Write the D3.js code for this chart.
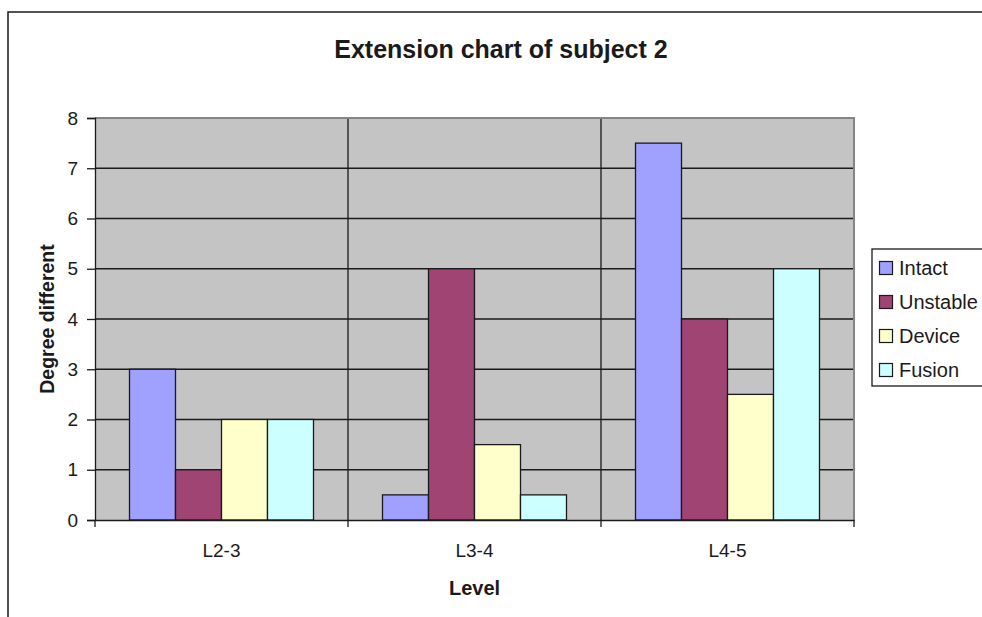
<!DOCTYPE html>
<html>
<head>
<meta charset="utf-8">
<script src="https://cdn.jsdelivr.net/npm/d3@7"></script>
<style>
  html, body { margin: 0; padding: 0; background: #fff; }
  svg { display: block; font-family: "Liberation Sans", Arial, sans-serif; }
</style>
</head>
<body>
<svg id="chart" width="982" height="617"></svg>
<script>
// Extension angles per spinal level for subject 2
const levels = ["L2-3", "L3-4", "L4-5"];
const seriesNames = ["Intact", "Unstable", "Device", "Fusion"];
const intact   = [3, 0.5, 7.5];
const unstable = [1, 5, 4];
const device   = [2, 1.5, 2.5];
const fusion   = [2, 0.5, 5];
const yTicks = [0, 1, 2, 3, 4, 5, 6, 7, 8];
const colors = ["#a0a0ff", "#a04473", "#ffffcc", "#ccffff"];

const seriesValues = [intact, unstable, device, fusion];
const ink = "#1a1a1a";
const fontFamily = "Liberation Sans, Arial, sans-serif";

const svg = d3.select("#chart");

// chart frame
svg.append("rect")
  .attr("x", 8).attr("y", 12)
  .attr("width", 1100).attr("height", 800)
  .attr("fill", "#fff").attr("stroke", ink).attr("stroke-width", 1.5);

const plot = { left: 95, right: 854, top: 118, bottom: 520 };

const x0 = d3.scaleBand().domain(levels).range([plot.left, plot.right]).padding(0);
// gap width 150%: group occupies 4 / 5.5 of the band
const groupFrac = 4 / 5.5;
const x1 = d3.scaleBand().domain(seriesNames)
  .range([0, x0.bandwidth() * groupFrac]).padding(0);
const y = d3.scaleLinear().domain([0, 8]).range([plot.bottom, plot.top]);

// plot background
svg.append("rect")
  .attr("x", plot.left).attr("y", plot.top)
  .attr("width", plot.right - plot.left).attr("height", plot.bottom - plot.top)
  .attr("fill", "#c4c4c4");

// horizontal gridlines
svg.append("g")
  .selectAll("line")
  .data(yTicks.filter(d => d > 0 && d < 8))
  .join("line")
  .attr("x1", plot.left).attr("x2", plot.right)
  .attr("y1", d => y(d)).attr("y2", d => y(d))
  .attr("stroke", ink).attr("stroke-width", 1.3);

// vertical category dividers
svg.append("g")
  .selectAll("line")
  .data(levels.slice(1))
  .join("line")
  .attr("x1", d => x0(d)).attr("x2", d => x0(d))
  .attr("y1", plot.top).attr("y2", plot.bottom)
  .attr("stroke", ink).attr("stroke-width", 1.3);

// plot border (top and right)
svg.append("path")
  .attr("d", `M${plot.left},${plot.top}H${plot.right}V${plot.bottom}`)
  .attr("fill", "none").attr("stroke", "#858585").attr("stroke-width", 2);

// bars
const barData = [];
levels.forEach((lv, i) => {
  seriesNames.forEach((s, j) => {
    barData.push({ level: lv, series: s, value: seriesValues[j][i], color: colors[j] });
  });
});
const offset = (x0.bandwidth() - x0.bandwidth() * groupFrac) / 2;
svg.append("g")
  .selectAll("rect")
  .data(barData)
  .join("rect")
  .attr("x", d => x0(d.level) + offset + x1(d.series))
  .attr("y", d => y(d.value))
  .attr("width", x1.bandwidth())
  .attr("height", d => y(0) - y(d.value))
  .attr("fill", d => d.color)
  .attr("stroke", ink).attr("stroke-width", 1.3);

// y axis
const yAxis = svg.append("g")
  .attr("transform", `translate(${plot.left},0)`)
  .call(d3.axisLeft(y).tickValues(yTicks).tickSize(8).tickPadding(9).tickFormat(d3.format("d")));
yAxis.attr("font-size", null).attr("font-family", null);
yAxis.select(".domain").attr("stroke", ink).attr("stroke-width", 1.3);
yAxis.selectAll(".tick line").attr("stroke", ink).attr("stroke-width", 1.3);
yAxis.selectAll("text")
  .style("font-size", "19px").style("font-family", fontFamily).attr("fill", ink);

// x axis
const xAxis = svg.append("g")
  .attr("transform", `translate(0,${plot.bottom})`)
  .call(d3.axisBottom(x0).tickSize(0).tickPadding(24));
xAxis.attr("font-size", null).attr("font-family", null);
xAxis.select(".domain").attr("stroke", ink).attr("stroke-width", 1.3);
xAxis.selectAll("text")
  .style("font-size", "19px").style("font-family", fontFamily).attr("fill", ink);
// category boundary ticks
svg.append("g")
  .selectAll("line")
  .data([plot.left, ...levels.slice(1).map(d => x0(d)), plot.right])
  .join("line")
  .attr("x1", d => d).attr("x2", d => d)
  .attr("y1", plot.bottom).attr("y2", plot.bottom + 7)
  .attr("stroke", ink).attr("stroke-width", 1.3);

// title
svg.append("text")
  .attr("x", 501).attr("y", 58)
  .attr("text-anchor", "middle")
  .style("font-size", "25px").attr("font-weight", "bold").attr("fill", ink)
  .text("Extension chart of subject 2");

// axis titles
svg.append("text")
  .attr("x", (plot.left + plot.right) / 2).attr("y", 595)
  .attr("text-anchor", "middle")
  .style("font-size", "20px").attr("font-weight", "bold").attr("fill", ink)
  .text("Level");

svg.append("text")
  .attr("transform", `translate(54,${(plot.top + plot.bottom) / 2}) rotate(-90)`)
  .attr("text-anchor", "middle")
  .style("font-size", "19.5px").attr("font-weight", "bold").attr("fill", ink)
  .text("Degree different");

// legend
const legend = svg.append("g").attr("transform", "translate(872,249)");
legend.append("rect")
  .attr("width", 140).attr("height", 137)
  .attr("fill", "#fff").attr("stroke", ink).attr("stroke-width", 1.3);
const items = legend.selectAll("g.item")
  .data(seriesNames)
  .join("g")
  .attr("class", "item")
  .attr("transform", (d, i) => `translate(0,${19 + i * 34})`);
items.append("rect")
  .attr("x", 7.5).attr("y", -6.5)
  .attr("width", 13).attr("height", 13)
  .attr("fill", (d, i) => colors[i])
  .attr("stroke", ink).attr("stroke-width", 1.2);
items.append("text")
  .attr("x", 27).attr("y", 7)
  .style("font-size", "20px").attr("fill", ink)
  .text(d => d);
</script>
</body>
</html>
